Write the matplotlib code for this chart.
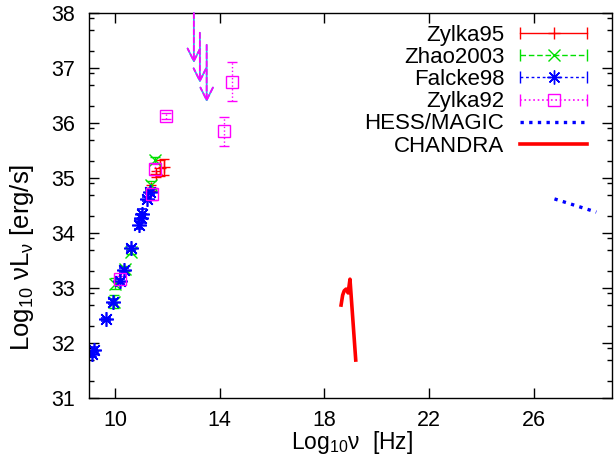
import numpy as np
import matplotlib.pyplot as plt
from matplotlib.lines import Line2D
from matplotlib.legend_handler import HandlerLine2D, HandlerTuple

plt.rcParams['font.family'] = ['Liberation Sans', 'DejaVu Sans']
plt.rcParams['mathtext.fontset'] = 'custom'
plt.rcParams['mathtext.rm'] = 'Liberation Sans'

# data (log10 nu, log10 nuL_nu)
zylka95_x = [11.37, 11.55, 11.71, 11.88]
zylka95_y = [34.82, 35.07, 35.18, 35.2]
zylka95_err = [0.06, 0.05, 0.15, 0.15]

zhao_x = [9.94, 10.0, 10.38, 10.61, 11.37, 11.52]
zhao_y = [32.75, 33.08, 33.35, 33.66, 34.88, 35.33]
zhao_err = [0.12, 0.1, 0.05, 0.05, 0.06, 0.05]

falcke_x = [9.1, 9.18, 9.66, 9.92, 10.17, 10.35, 10.62, 10.93, 10.97, 11.02, 11.2, 11.35]
falcke_y = [31.8, 31.88, 32.43, 32.75, 33.13, 33.33, 33.72, 34.15, 34.27, 34.35, 34.62, 34.75]
falcke_err = [0.05, 0.05, 0.03, 0.05, 0.04, 0.04, 0.04, 0.08, 0.08, 0.08, 0.04, 0.04]

zylka92_x = [10.17, 11.4, 11.52, 11.94, 14.15, 14.48]
zylka92_y = [33.16, 34.7, 35.16, 36.13, 35.85, 36.75]
zylka92_err = [0.05, 0.1, 0.1, 0.05, 0.26, 0.35]

# upper limits (arrows)
limit_x = [13.01, 13.24, 13.5]
limit_top = [38.0, 37.64, 37.42]
limit_tip = [37.09, 36.73, 36.38]

hess_x = [26.8, 28.4]
hess_y = [34.62, 34.38]

chandra_x = [18.64, 18.7, 18.76, 18.83, 18.91, 18.98, 19.2]
chandra_y = [32.69, 32.87, 32.95, 32.98, 32.91, 33.16, 31.69]

red, green, blue, magenta, cyan = '#ff0000', '#00e000', '#0000ff', '#ff00ff', '#00e0e0'

fig = plt.figure(figsize=(6.16, 4.57), dpi=100)
ax = fig.add_axes([89/616, 1-398/457, 523/616, 385/457])

eb = ax.errorbar(zylka95_x, zylka95_y, yerr=zylka95_err, color=red, ls='none',
                 marker='+', ms=9, capsize=3.5, elinewidth=1)
eb = ax.errorbar(zhao_x, zhao_y, yerr=zhao_err, color=green, ls='none',
                 marker='x', ms=8, capsize=3.5, elinewidth=1)
eb[2][0].set_linestyle((0, (4, 2)))
eb = ax.errorbar(falcke_x, falcke_y, yerr=falcke_err, color=blue, ls='none',
                 marker=(8, 2, 0), ms=10.5, capsize=3.5, elinewidth=1, mew=1.2)
eb[2][0].set_linestyle((0, (2, 2)))
eb = ax.errorbar(zylka92_x, zylka92_y, yerr=zylka92_err, color=magenta, ls='none',
                 marker='s', ms=8, mfc='none', capsize=3.5, elinewidth=1)
eb[2][0].set_linestyle(':')

for x, top, tip in zip(limit_x, limit_top, limit_tip):
    ax.annotate('', xy=(x, tip), xytext=(x, top),
                arrowprops=dict(arrowstyle='->,head_length=0.9,head_width=0.45',
                                color=cyan, lw=1.3, shrinkA=0, shrinkB=0))
    ax.annotate('', xy=(x, tip), xytext=(x, top),
                arrowprops=dict(arrowstyle='->,head_length=0.9,head_width=0.45',
                                color=magenta, lw=1.3, ls=(0, (3, 1.5)), shrinkA=0, shrinkB=0))

ax.plot(hess_x, hess_y, color=blue, ls=(0, (1, 1.6)), lw=2.4)
ax.plot(chandra_x, chandra_y, color=red, lw=2.6)

ax.set_xlim(9, 29)
ax.set_ylim(31, 38)
ax.set_xticks([10, 14, 18, 22, 26])
ax.set_yticks(range(31, 39))
ax.set_yticks([n + np.log10(k) for n in range(31, 38) for k in (2, 5, 8)], minor=True)
ax.tick_params(which='both', direction='in', top=True, right=True, width=1)
ax.tick_params(which='major', length=7, labelsize=15.5)
ax.tick_params(axis='x', pad=9)
ax.tick_params(axis='y', pad=10)
ax.tick_params(which='minor', length=3.5)
for s in ax.spines.values():
    s.set_linewidth(1)

fig.text(352/616, 1-443/457, r'Log$_{\mathregular{10}}$ν  [Hz]', fontsize=16.5,
         ha='center', va='center')
fig.text(22/616, 1-257/457, r'Log$_{\mathregular{10}}$ νL$_{\mathregular{ν}}$ [erg/s]',
         fontsize=18.5, ha='center', va='center', rotation=90)

# gnuplot style legend: label, then sample with end caps
def key(color, ls, lw, marker=None, ms=8):
    bar = Line2D([], [], color=color, ls=ls, lw=lw, marker='|', ms=8, mew=1)
    hm = {bar: HandlerLine2D(numpoints=2, marker_pad=0)}
    if marker is None:
        return bar, hm
    pt = Line2D([], [], color=color, ls='none', marker=marker, ms=ms, mfc='none', mew=1)
    hm[pt] = HandlerLine2D(numpoints=1)
    return (bar, pt), hm

handles, hmap = [], {}
for args in [(red, '-', 1, '+', 9), (green, (0, (4, 2)), 1, 'x', 8),
             (blue, (0, (2, 2)), 1, (8, 2, 0), 10), (magenta, ':', 1.2, 's', 8)]:
    h, hm = key(*args)
    handles.append(h)
    hmap.update(hm)
hess_key = Line2D([], [], color=blue, ls=(0, (1, 1.6)), lw=2.4)
chandra_key = Line2D([], [], color=red, lw=2.6)
handles += [hess_key, chandra_key]
labels = ['Zylka95', 'Zhao2003', 'Falcke98', 'Zylka92', 'HESS/MAGIC', 'CHANDRA']
hmap[tuple] = HandlerTuple(ndivide=1)

ax.legend(handles, labels, handler_map=hmap, loc='upper right',
          bbox_to_anchor=(1 - 25/523, 1 - 12/385), frameon=False, fontsize=16,
          markerfirst=False, handlelength=3.0, handletextpad=0.72,
          labelspacing=0.05, borderpad=0, borderaxespad=0)

fig.savefig('out.png', dpi=100)
